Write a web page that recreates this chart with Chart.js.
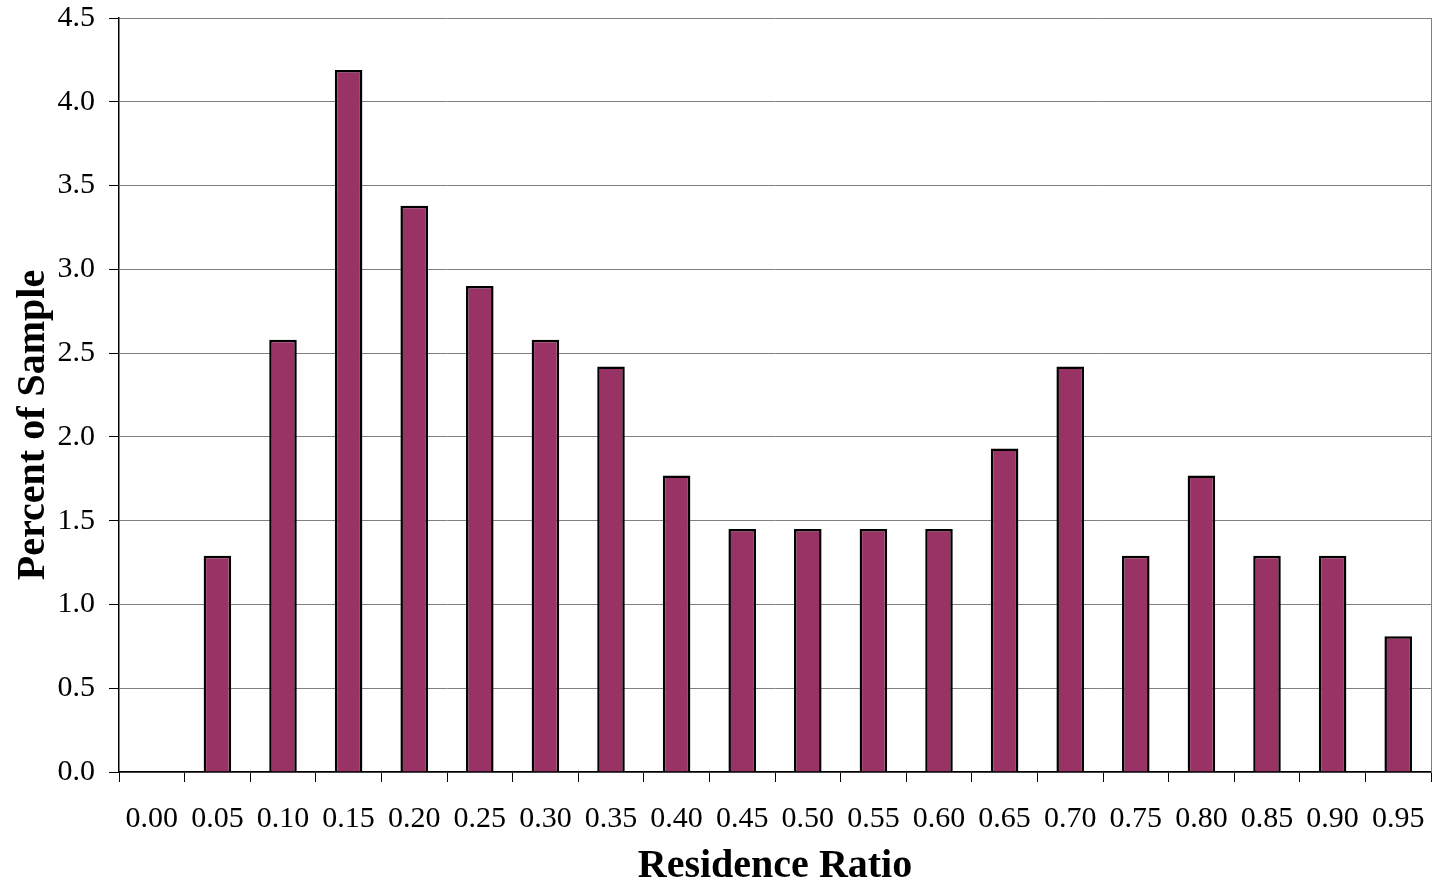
<!DOCTYPE html>
<html>
<head>
<meta charset="utf-8">
<script src="https://cdn.jsdelivr.net/npm/chart.js@4.4.0/dist/chart.umd.min.js"></script>
<style>
  html, body { margin: 0; padding: 0; background: #fff; }
  #wrap { width: 1435px; height: 888px; }
</style>
</head>
<body>
<div id="wrap"><canvas id="grafico" width="1435" height="888"></canvas></div>
<script>
// Categorias (residence ratio) e valores (% da amostra)
const categorias = ['0.00', '0.05', '0.10', '0.15', '0.20', '0.25', '0.30', '0.35', '0.40', '0.45',
  '0.50', '0.55', '0.60', '0.65', '0.70', '0.75', '0.80', '0.85', '0.90', '0.95'];
const percentuais = [0, 1.29, 2.58, 4.19, 3.38, 2.90, 2.58, 2.42, 1.77, 1.45,
  1.45, 1.45, 1.45, 1.93, 2.42, 1.29, 1.77, 1.29, 1.29, 0.81];
const tituloX = 'Residence Ratio';
const tituloY = 'Percent of Sample';

const fonte = '"Liberation Serif", "Times New Roman", serif';

// Borda direita cinza da área do gráfico
const bordaDireita = {
  id: 'bordaDireita',
  afterDraw(chart) {
    const { ctx, chartArea } = chart;
    ctx.save();
    ctx.strokeStyle = '#808080';
    ctx.lineWidth = 1;
    ctx.beginPath();
    ctx.moveTo(chartArea.right + 0.5, chartArea.top);
    ctx.lineTo(chartArea.right + 0.5, chartArea.bottom);
    ctx.stroke();
    ctx.restore();
  }
};

const grafico = new Chart(document.getElementById('grafico'), {
  type: 'bar',
  data: {
    labels: categorias,
    datasets: [{
      data: percentuais,
      backgroundColor: '#993366',
      borderColor: '#000000',
      borderWidth: 2.5,
      barPercentage: 0.42,
      categoryPercentage: 1
    }]
  },
  options: {
    responsive: false,
    animation: false,
    layout: { padding: { top: 18, right: 4, left: 0, bottom: 0 } },
    plugins: {
      legend: { display: false },
      tooltip: { enabled: false }
    },
    scales: {
      x: {
        offset: true,
        grid: {
          offset: true,
          drawOnChartArea: false,
          drawTicks: true,
          tickLength: 10,
          color: '#000000'
        },
        border: { color: '#000000', width: 1.5 },
        ticks: {
          color: '#000000',
          padding: 19,
          maxRotation: 0,
          autoSkip: false,
          font: { family: fonte, size: 30 }
        },
        title: {
          display: true,
          text: tituloX,
          color: '#000000',
          padding: { top: 0, bottom: 1 },
          font: { family: fonte, size: 40, weight: 'bold', lineHeight: 1 }
        },
        afterFit(scale) {
          scale.height = 116;
          scale.paddingLeft = 0;
          scale.paddingRight = 0;
        }
      },
      y: {
        min: 0,
        max: 4.5,
        grid: {
          color: '#808080',
          lineWidth: 1,
          drawTicks: true,
          tickLength: 10,
          tickColor: '#000000'
        },
        border: { color: '#000000', width: 1.5 },
        ticks: {
          stepSize: 0.5,
          color: '#000000',
          padding: 14,
          font: { family: fonte, size: 30 },
          callback: (v) => Number(v).toFixed(1)
        },
        title: {
          display: true,
          // espaços no fim empurram o título um pouco para baixo, como no original
          text: tituloY + '\u00a0\u00a0\u00a0\u00a0\u00a0\u00a0',
          color: '#000000',
          padding: { top: 14, bottom: 0 },
          font: { family: fonte, size: 40, weight: 'bold', lineHeight: 1 }
        },
        afterFit(scale) {
          scale.width = 119;
          scale.paddingTop = 0;
          scale.paddingBottom = 0;
        }
      }
    }
  },
  plugins: [bordaDireita]
});
</script>
</body>
</html>
